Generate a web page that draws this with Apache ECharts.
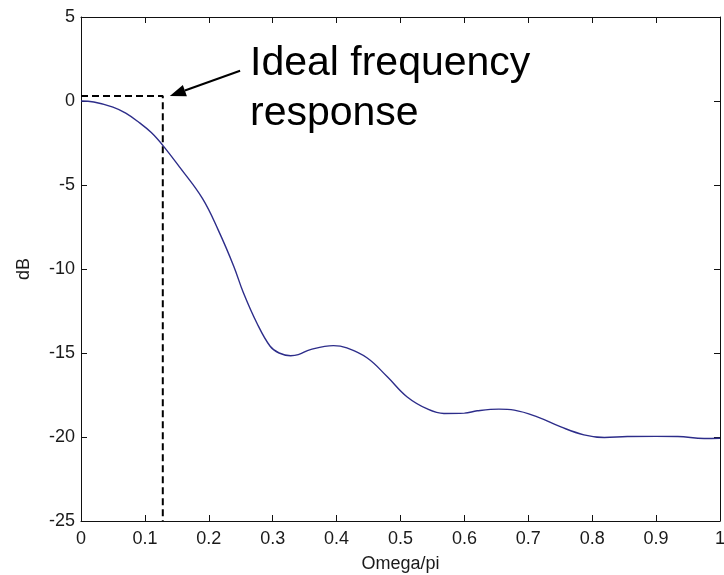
<!DOCTYPE html>
<html>
<head>
<meta charset="utf-8">
<script src="https://cdn.jsdelivr.net/npm/echarts@6/dist/echarts.min.js"></script>
<style>
html,body{margin:0;padding:0;background:#fff;}
#chart{width:724px;height:575px;}
</style>
</head>
<body>
<div id="chart"></div>
<script>
// ---- data ----
const omega = [0, 0.02, 0.05, 0.07, 0.09, 0.11, 0.128, 0.155, 0.19, 0.215, 0.239, 0.254, 0.275, 0.296, 0.31, 0.328, 0.34, 0.359, 0.395, 0.416, 0.448, 0.479, 0.51, 0.542, 0.568, 0.6, 0.62, 0.654, 0.678, 0.714, 0.751, 0.787, 0.819, 0.855, 0.9, 0.934, 0.975, 1.0];
const dB    = [0, -0.06, -0.36, -0.72, -1.25, -1.88, -2.64, -3.97, -5.8, -7.7, -9.83, -11.4, -13.2, -14.6, -15.0, -15.16, -15.1, -14.8, -14.56, -14.7, -15.3, -16.4, -17.6, -18.33, -18.6, -18.58, -18.44, -18.34, -18.4, -18.8, -19.4, -19.87, -20.03, -19.97, -19.96, -19.97, -20.09, -20.07];
const idealX = [0, 0.128, 0.128];
const idealY = [0.3, 0.3, -25];
const xTickLabels = ['0', '0.1', '0.2', '0.3', '0.4', '0.5', '0.6', '0.7', '0.8', '0.9', '1'];
const yTickLabels = ['-25', '-20', '-15', '-10', '-5', '0', '5'];
const annotationLines = ['Ideal frequency', 'response'];
const arrowFrom = [0.249, 1.8];
const arrowTo = [0.139, 0.3];

const chart = echarts.init(document.getElementById('chart'));
const labelFont = { fontFamily: 'Liberation Sans, Arial, sans-serif', fontSize: 18, color: '#1a1a1a' };
const xFmt = v => xTickLabels[Math.round(v * 10)] ?? '';
const yFmt = v => yTickLabels[Math.round((v + 25) / 5)] ?? '';
const axisLineStyle = { onZero: false, lineStyle: { color: '#111', width: 1 } };
const tickStyle = { inside: true, length: 6, lineStyle: { color: '#111' } };

chart.setOption({
  animation: false,
  backgroundColor: '#fff',
  grid: { left: 81, right: 4, top: 17, bottom: 54, containLabel: false, outerBoundsMode: 'none' },
  xAxis: [
    {
      type: 'value', min: 0, max: 1, interval: 0.1, position: 'bottom',
      name: 'Omega/pi', nameLocation: 'middle', nameGap: 34,
      nameTextStyle: labelFont,
      axisLine: axisLineStyle,
      axisTick: tickStyle,
      axisLabel: Object.assign({ formatter: xFmt, margin: 9, showMaxLabel: true, showMinLabel: true }, labelFont),
      splitLine: { show: false }
    },
    {
      type: 'value', min: 0, max: 1, interval: 0.1, position: 'top',
      axisLine: axisLineStyle,
      axisTick: tickStyle,
      axisLabel: { show: false },
      splitLine: { show: false }
    }
  ],
  yAxis: [
    {
      type: 'value', min: -25, max: 5, interval: 5, position: 'left',
      name: 'dB', nameLocation: 'middle', nameGap: 48, nameRotate: 90,
      nameTextStyle: labelFont,
      axisLine: axisLineStyle,
      axisTick: tickStyle,
      axisLabel: Object.assign({ formatter: yFmt, margin: 6 }, labelFont),
      splitLine: { show: false }
    },
    {
      type: 'value', min: -25, max: 5, interval: 5, position: 'right',
      axisLine: axisLineStyle,
      axisTick: tickStyle,
      axisLabel: { show: false },
      splitLine: { show: false }
    }
  ],
  series: [
    {
      type: 'line',
      data: omega.map((x, i) => [x, dB[i]]),
      smooth: 0.4,
      showSymbol: false,
      lineStyle: { color: '#2d2d8a', width: 1.4 },
      z: 3
    },
    {
      type: 'line',
      data: idealX.map((x, i) => [x, idealY[i]]),
      showSymbol: false,
      lineStyle: { color: '#000', width: 2, type: [7, 4] },
      z: 2
    }
  ]
});

const p0 = chart.convertToPixel({ gridIndex: 0 }, arrowFrom);
const p1 = chart.convertToPixel({ gridIndex: 0 }, arrowTo);
const ang = Math.atan2(p1[1] - p0[1], p1[0] - p0[0]);
const headLen = 16, headW = 6;
const bx = p1[0] - headLen * Math.cos(ang), by = p1[1] - headLen * Math.sin(ang);
const nx = -Math.sin(ang), ny = Math.cos(ang);

chart.setOption({
  graphic: [
    { type: 'line', shape: { x1: p0[0], y1: p0[1], x2: bx, y2: by }, style: { stroke: '#000', lineWidth: 2 }, z: 10 },
    { type: 'polygon', shape: { points: [[p1[0], p1[1]], [bx + nx * headW, by + ny * headW], [bx - nx * headW, by - ny * headW]] }, style: { fill: '#000' }, z: 10 },
    { type: 'text', x: 250, y: 64, style: { text: annotationLines[0], font: '41px "Liberation Sans", Arial, sans-serif', fill: '#000', verticalAlign: 'middle' }, z: 10 },
    { type: 'text', x: 250, y: 114, style: { text: annotationLines[1], font: '41px "Liberation Sans", Arial, sans-serif', fill: '#000', verticalAlign: 'middle' }, z: 10 }
  ]
});
</script>
</body>
</html>
